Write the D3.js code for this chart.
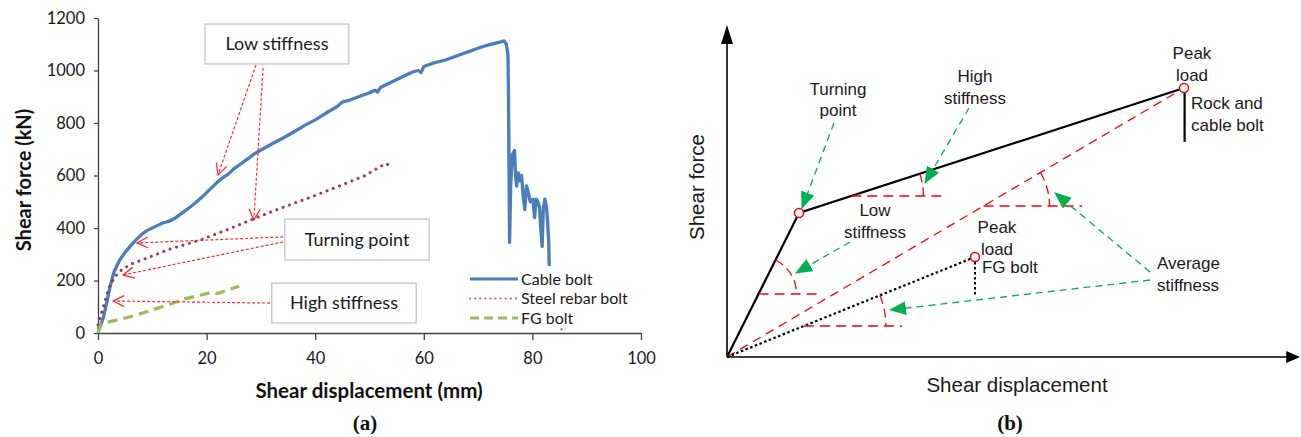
<!DOCTYPE html>
<html><head><meta charset="utf-8">
<script src="https://cdn.jsdelivr.net/npm/d3@7"></script>
<style>body{margin:0;background:#fff;} svg{display:block;}</style>
</head><body>
<svg id="c" width="1301" height="437"></svg>
<script>
// ---------- Panel (a) data: shear displacement (mm) vs shear force (kN)
const xTicksA = [0, 20, 40, 60, 80, 100];
const yTicksA = [0, 200, 400, 600, 800, 1000, 1200];
const seriesNames = ["Cable bolt", "Steel rebar bolt", "FG bolt"];

const cableBolt = [[0,15],[0.5,30],[1,60],[1.5,105],[2,155],[2.5,200],[3,235],[4,278],[5,308],[6,332],[7,355],[8,375],[9,390],[10,400],[11,410],[12,420],[13,425],[14,435],[15,450],[16,465],[17,480],[18,497],[19,515],[20,535],[21,555],[22,575],[23,592],[24,605],[25,625],[26,640],[27,655],[28,670],[29,685],[30,697],[32,720],[34,742],[36,765],[38,790],[40,812],[42,838],[44,862],[45,880],[46,885],[48,900],[50,915],[51,925],[51.5,918],[52,935],[54,955],[56,975],[58,995],[59,1000],[59.5,992],[60,1015],[62,1030],[64,1040],[66,1055],[68,1070],[70,1085],[72,1098],[74,1108],[74.8,1113],[75.2,1100],[75.5,1060],[75.6,900],[75.7,600],[75.8,345],[76.0,560],[76.3,680],[76.7,695],[76.9,600],[77.1,560],[77.4,610],[77.7,580],[78.0,600],[78.3,520],[78.6,470],[78.9,560],[79.2,540],[79.6,500],[80.1,510],[80.4,440],[80.7,510],[81.0,500],[81.3,480],[81.6,380],[81.8,330],[82.0,470],[82.3,510],[82.6,480],[82.8,420],[83.0,350],[83.1,255]];
const cableTail = [[85.2,14],[86.2,14]];
const steelRebar = [[0,30],[0.4,60],[1,100],[1.6,145],[2.2,180],[3,210],[4,235],[6,262],[9.6,290],[13,318],[18.8,354],[24,395],[29,438],[34,478],[39,516],[44,556],[49,598],[52.5,640],[53.2,645],[53.8,632]];
const fgBolt = [[0,0],[0.5,30],[1.5,40],[4,52],[7,68],[10,88],[13,108],[16,130],[19,145],[21,155],[22,150],[24,165],[26,178]];

// ---------- Panel (b) schematic values (arbitrary units 0-100)
const bOrigin = [0, 0];
const bTurning = [12.57, 43.37];
const bPeak = [79.76, 81.02];
const bFgPeak = [43.28, 30.12];

const svg = d3.select("#c");
const defs = svg.append("defs");
defs.append("marker").attr("id","vred").attr("viewBox","0 0 13 13").attr("refX",12).attr("refY",6.5)
  .attr("markerWidth",13).attr("markerHeight",13).attr("markerUnits","userSpaceOnUse").attr("orient","auto")
  .append("path").attr("d","M1,1 L12,6.5 L1,12").attr("fill","none").attr("stroke","#ff2a2a").attr("stroke-width",1.3);
defs.append("marker").attr("id","tgreen").attr("viewBox","0 0 17 14").attr("refX",16).attr("refY",7)
  .attr("markerWidth",17).attr("markerHeight",14).attr("markerUnits","userSpaceOnUse").attr("orient","auto")
  .append("path").attr("d","M0,0 L17,7 L0,14 Z").attr("fill","#00b050");

// ======================= Panel (a)
const xa = d3.scaleLinear().domain([0,100]).range([98,641]);
const ya = d3.scaleLinear().domain([0,1200]).range([333,18]);
const gA = svg.append("g");
const axisColor = "#404040";
const xAx = gA.append("g").attr("transform",`translate(0,${ya(0)})`)
  .call(d3.axisBottom(xa).tickValues(xTicksA).tickFormat(d3.format("d")).tickSize(7).tickPadding(12).tickSizeOuter(0));
const yAx = gA.append("g").attr("transform",`translate(${xa(0)},0)`)
  .call(d3.axisLeft(ya).tickValues(yTicksA).tickFormat(d3.format("d")).tickSize(4).tickPadding(9).tickSizeOuter(0));
[xAx,yAx].forEach(a=>{
  a.select(".domain").attr("stroke",axisColor).attr("stroke-width",1.3);
  a.selectAll(".tick line").attr("stroke",axisColor).attr("stroke-width",1.3);
  a.selectAll("text").attr("font-family","Lato").attr("font-size",16.5).attr("fill","#1a1a1a");
});

const lineA = d3.line().x(d=>xa(d[0])).y(d=>ya(d[1]));
gA.append("path").datum(cableBolt).attr("d",lineA).attr("fill","none").attr("stroke","#4a7ebb")
  .attr("stroke-width",3.3).attr("stroke-linejoin","round");
gA.append("path").datum(cableTail).attr("d",lineA).attr("fill","none").attr("stroke","#4a7ebb")
  .attr("stroke-width",2).attr("stroke-dasharray","2,3");
gA.append("path").datum(steelRebar).attr("d",lineA).attr("fill","none").attr("stroke","#a33a48")
  .attr("stroke-width",3).attr("stroke-dasharray","0.1,6.6").attr("stroke-linecap","round");
gA.append("path").datum(fgBolt).attr("d",lineA).attr("fill","none").attr("stroke","#9bbb59")
  .attr("stroke-width",3.2).attr("stroke-dasharray","10,6");

// annotation boxes & arrows (data units)
const aBoxes = [
  {text:"Low stiffness", x0:19.7, x1:46.2, y0:1177, y1:1025},
  {text:"Turning point", x0:34.4, x1:61.0, y0:434, y1:278},
  {text:"High stiffness", x0:32.0, x1:58.6, y0:190, y1:38}
];
const aArrows = [
  [[29.1,1021],[22.1,602]],
  [[30.4,1010],[28.7,430]],
  [[34.1,366],[7.2,343]],
  [[34.1,347],[4.6,221]],
  [[31.7,114],[2.8,122]]
];
aArrows.forEach(p=>{
  gA.append("line").attr("x1",xa(p[0][0])).attr("y1",ya(p[0][1])).attr("x2",xa(p[1][0])).attr("y2",ya(p[1][1]))
    .attr("stroke","#ff2a2a").attr("stroke-width",1.2).attr("stroke-dasharray","3,2").attr("marker-end","url(#vred)");
});
aBoxes.forEach(b=>{
  gA.append("rect").attr("x",xa(b.x0)).attr("y",ya(b.y0)).attr("width",xa(b.x1)-xa(b.x0)).attr("height",ya(b.y1)-ya(b.y0))
    .attr("fill","#fff").attr("stroke","#c4c4c4").attr("stroke-width",1.3);
  gA.append("text").attr("x",(xa(b.x0)+xa(b.x1))/2).attr("y",(ya(b.y0)+ya(b.y1))/2).attr("dy","0.35em")
    .attr("text-anchor","middle").attr("font-family","Lato").attr("font-size",18).attr("fill","#1a1a1a").text(b.text);
});

// legend
const legStyles = [
  {stroke:"#4a7ebb", w:3, dash:null},
  {stroke:"#e0506a", w:2.2, dash:"0.1,5", cap:"round"},
  {stroke:"#9bbb59", w:3, dash:"9,5"}
];
seriesNames.forEach((n,i)=>{
  const y = 279 + i*19.5;
  const s = legStyles[i];
  const l = gA.append("line").attr("x1",470).attr("x2",518).attr("y1",y).attr("y2",y)
    .attr("stroke",s.stroke).attr("stroke-width",s.w);
  if (s.dash) l.attr("stroke-dasharray",s.dash);
  if (s.cap) l.attr("stroke-linecap",s.cap);
  gA.append("text").attr("x",521).attr("y",y).attr("dy","0.35em").attr("font-family","Lato")
    .attr("font-size",16).attr("fill","#1a1a1a").text(n);
});

gA.append("text").attr("transform",`translate(24,180) rotate(-90)`).attr("text-anchor","middle")
  .attr("dy","0.35em").attr("font-family","Lato").attr("font-weight","bold").attr("font-size",20).attr("fill","#111")
  .text("Shear force (kN)");
gA.append("text").attr("x",369).attr("y",391).attr("dy","0.35em").attr("text-anchor","middle")
  .attr("font-family","Lato").attr("font-weight","bold").attr("font-size",20.5).attr("fill","#111")
  .text("Shear displacement (mm)");
svg.append("text").attr("x",365).attr("y",430).attr("text-anchor","middle").attr("font-family","Liberation Serif")
  .attr("font-weight","bold").attr("font-size",21).attr("fill","#111").text("(a)");

// ======================= Panel (b)
const xb = d3.scaleLinear().domain([0,100]).range([727,1300]);
const yb = d3.scaleLinear().domain([0,100]).range([357,25]);
const gB = svg.append("g");
const P = d => [xb(d[0]), yb(d[1])];

// axes with arrows
gB.append("line").attr("x1",xb(0)).attr("y1",yb(0)).attr("x2",xb(0)).attr("y2",yb(94.5)).attr("stroke","#000").attr("stroke-width",1.6);
gB.append("path").attr("d",`M${xb(0)},${yb(100)} L${xb(0)-6},${yb(94.3)} L${xb(0)+6},${yb(94.3)} Z`).attr("fill","#000");
gB.append("line").attr("x1",xb(0)).attr("y1",yb(0)).attr("x2",xb(97.8)).attr("y2",yb(0)).attr("stroke","#000").attr("stroke-width",1.6);
gB.append("path").attr("d",`M${xb(100)},${yb(0)} L${xb(97.6)},${yb(0)-6} L${xb(97.6)},${yb(0)+6} Z`).attr("fill","#000");

const lineB = d3.line().x(d=>xb(d[0])).y(d=>yb(d[1]));
gB.append("path").datum([bOrigin,bPeak]).attr("d",lineB).attr("stroke","#ff0000").attr("stroke-width",1.3)
  .attr("stroke-dasharray","9,6").attr("fill","none");
gB.append("path").datum([bOrigin,bFgPeak]).attr("d",lineB).attr("stroke","#000").attr("stroke-width",2.2)
  .attr("stroke-dasharray","2.5,2.5").attr("fill","none");
gB.append("path").datum([[bFgPeak[0],28.6],[bFgPeak[0],18.07]]).attr("d",lineB).attr("stroke","#000").attr("stroke-width",2)
  .attr("stroke-dasharray","2.5,2.5").attr("fill","none");
gB.append("path").datum([bOrigin,bTurning,bPeak]).attr("d",lineB).attr("stroke","#000").attr("stroke-width",2.2).attr("fill","none");
gB.append("path").datum([[bPeak[0]+0.1,79.8],[bPeak[0]+0.1,64.8]]).attr("d",lineB).attr("stroke","#000").attr("stroke-width",2.2).attr("fill","none");

// angle markers
const angleMarks = [
  {a:bOrigin, b:bTurning, yLevel:18.98, xEnd:15.71, r:38},
  {a:bTurning, b:bPeak, yLevel:48.49, xEnd:37.70, r:72},
  {a:bOrigin, b:bPeak, yLevel:45.48, xEnd:61.95, r:66},
  {a:bOrigin, b:bFgPeak, yLevel:9.34, xEnd:30.54, r:82}
];
angleMarks.forEach(m=>{
  const A=P(m.a), B=P(m.b), yL=yb(m.yLevel);
  const t=(yL-A[1])/(B[1]-A[1]);
  const px=A[0]+t*(B[0]-A[0]);
  const th=Math.atan2(A[1]-B[1], B[0]-A[0]);
  gB.append("line").attr("x1",px).attr("y1",yL).attr("x2",xb(m.xEnd)).attr("y2",yL)
    .attr("stroke","#ff0000").attr("stroke-width",1.3).attr("stroke-dasharray","10,6");
  const sx=px+m.r*Math.cos(th), sy=yL-m.r*Math.sin(th);
  gB.append("path").attr("d",`M${sx},${sy} A${m.r},${m.r} 0 0 1 ${px+m.r},${yL}`)
    .attr("fill","none").attr("stroke","#ff0000").attr("stroke-width",1.3).attr("stroke-dasharray","9,5");
});

// green arrows
const bArrows = [
  [[18.67,70.48],[13.09,44.88]],
  [[42.23,75.0],[34.55,52.41]],
  [[21.47,34.64],[12.04,25.3]],
  [[73.82,25.6],[57.24,49.4]],
  [[73.82,23.19],[28.45,14.16]]
];
bArrows.forEach(p=>{
  const s=P(p[0]), e=P(p[1]);
  gB.append("line").attr("x1",s[0]).attr("y1",s[1]).attr("x2",e[0]).attr("y2",e[1])
    .attr("stroke","#00b050").attr("stroke-width",1.3).attr("stroke-dasharray","7,5").attr("marker-end","url(#tgreen)");
});

[bTurning,bPeak,bFgPeak].forEach(d=>{
  gB.append("circle").attr("cx",xb(d[0])).attr("cy",yb(d[1])).attr("r",4.5)
    .attr("fill","#fff").attr("stroke","#ff0000").attr("stroke-width",1.5);
});

const bLabels = [
  {lines:["Turning","point"], x:19.37, y:78.9, anchor:"middle", lh:21},
  {lines:["High","stiffness"], x:43.28, y:82.8, anchor:"middle", lh:22},
  {lines:["Peak","load"], x:81.15, y:89.8, anchor:"middle", lh:22},
  {lines:["Rock and","cable bolt"], x:80.98, y:74.7, anchor:"start", lh:22},
  {lines:["Low","stiffness"], x:25.83, y:42.5, anchor:"middle", lh:22},
  {lines:["Peak","load"], x:47.12, y:37.3, anchor:"middle", lh:22},
  {lines:["FG bolt"], x:44.5, y:25.3, anchor:"start", lh:22},
  {lines:["Average","stiffness"], x:75.04, y:26.5, anchor:"start", lh:22}
];
bLabels.forEach(l=>{
  const t = gB.append("text").attr("x",xb(l.x)).attr("y",yb(l.y)).attr("text-anchor",l.anchor)
    .attr("font-family","Liberation Sans").attr("font-size",17).attr("fill","#1a1a1a");
  l.lines.forEach((s,i)=>t.append("tspan").attr("x",xb(l.x)).attr("dy",i?l.lh:0).text(s));
});
gB.append("text").attr("transform",`translate(697,187) rotate(-90)`).attr("text-anchor","middle").attr("dy","0.35em")
  .attr("font-family","Liberation Sans").attr("font-size",20.5).attr("fill","#1a1a1a").text("Shear force");
gB.append("text").attr("x",1017).attr("y",385).attr("dy","0.35em").attr("text-anchor","middle")
  .attr("font-family","Liberation Sans").attr("font-size",20.5).attr("fill","#1a1a1a").text("Shear displacement");
svg.append("text").attr("x",1010).attr("y",430).attr("text-anchor","middle").attr("font-family","Liberation Serif")
  .attr("font-weight","bold").attr("font-size",21).attr("fill","#111").text("(b)");
</script>
</body></html>
